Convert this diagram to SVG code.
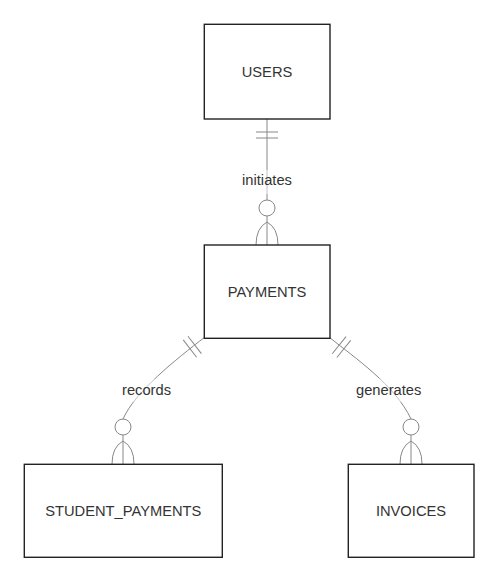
<svg xmlns="http://www.w3.org/2000/svg" width="500" height="585" viewBox="0 0 500 585">
<style>
.box{fill:#fff;stroke:#222;stroke-width:1.4}
.ntxt{font-family:"Liberation Sans",Arial,sans-serif;font-size:14.7px;fill:#333;text-anchor:middle}
.conn{fill:none;stroke:#888;stroke-width:1}
.mk{fill:none;stroke:#888;stroke-width:1}
.lbg{fill:#fff;opacity:0.5}
.ltxt{font-family:"Liberation Sans",Arial,sans-serif;font-size:14.7px;fill:#333;text-anchor:middle}
</style>
<defs>
<marker id="one" markerUnits="userSpaceOnUse" orient="auto" overflow="visible" markerWidth="40" markerHeight="40" refX="0" refY="0">
<path class="mk" d="M13,-11V11M19,-11V11"/>
</marker>
<marker id="many" markerUnits="userSpaceOnUse" orient="auto" overflow="visible" markerWidth="60" markerHeight="40" refX="0" refY="0">
<circle cx="-37" cy="0" r="8" fill="#fff" stroke="#888" stroke-width="1"/>
<path class="mk" d="M0,-11Q-17,-11 -23,0Q-17,11 0,11"/>
</marker>
</defs>
<rect width="500" height="585" fill="#fff"/>
<g id="connectors">
<path class="conn" d="M267,119L267,245" marker-start="url(#one)" marker-end="url(#many)"/>
<path class="conn" d="M205,337C175,360 135,392 123,419L123,464" marker-start="url(#one)" marker-end="url(#many)"/>
<path class="conn" d="M329,337C355,358 395,385 411,419L411,464" marker-start="url(#one)" marker-end="url(#many)"/>
</g>
<g id="labels">
<g id="label-initiates"><rect class="lbg" x="241" y="170" width="52" height="24"/><text class="ltxt" x="267" y="184.5">initiates</text></g>
<g id="label-records"><rect class="lbg" x="120" y="379" width="53" height="23"/><text class="ltxt" x="146.5" y="395">records</text></g>
<g id="label-generates"><rect class="lbg" x="355" y="379" width="68" height="23"/><text class="ltxt" x="388.7" y="395">generates</text></g>
</g>
<g id="USERS"><rect class="box" x="204.3" y="24.3" width="125.7" height="94.7"/><text class="ntxt" x="267" y="76.8">USERS</text></g>
<g id="PAYMENTS"><rect class="box" x="204.3" y="245" width="125.7" height="93.3"/><text class="ntxt" x="267" y="297">PAYMENTS</text></g>
<g id="STUDENT_PAYMENTS"><rect class="box" x="24.3" y="464.3" width="198" height="93"/><text class="ntxt" x="123.3" y="515.5">STUDENT_PAYMENTS</text></g>
<g id="INVOICES"><rect class="box" x="348.3" y="464.3" width="125.7" height="93"/><text class="ntxt" x="411" y="515.5">INVOICES</text></g>
</svg>
